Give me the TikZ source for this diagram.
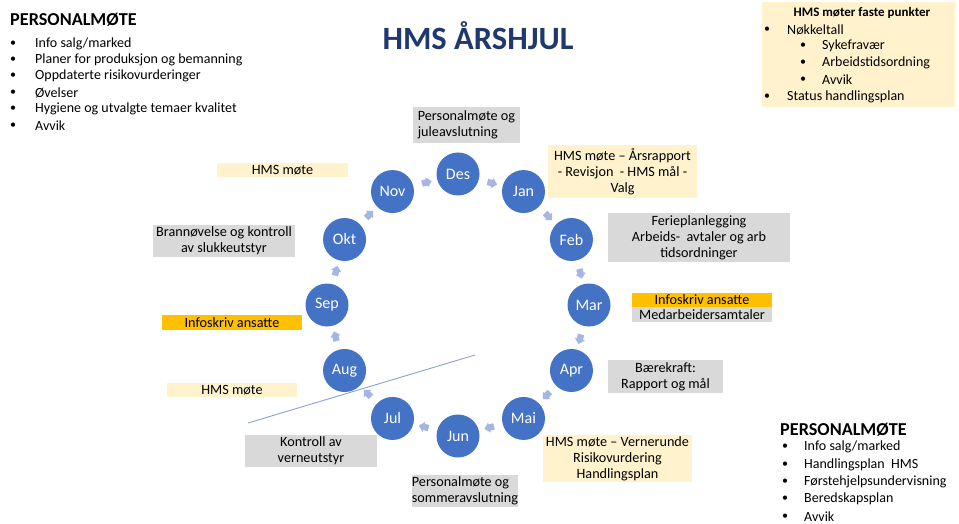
\documentclass[tikz,border=0pt]{standalone}
\usepackage{fontspec}
\setmainfont{Carlito}
\usetikzlibrary{shapes.arrows,calc}
\definecolor{circ}{RGB}{68,114,196}
\definecolor{arr}{RGB}{165,182,224}
\definecolor{cream}{RGB}{255,242,204}
\definecolor{grayb}{RGB}{217,217,217}
\definecolor{orangeb}{RGB}{255,192,0}
\definecolor{titleblue}{RGB}{31,56,110}
\definecolor{divline}{RGB}{140,160,210}
\begin{document}
\begin{tikzpicture}[x=1pt,y=-1pt,
  month/.style={circle,fill=circ,text=white,minimum size=43pt,inner sep=0pt,font=\fontsize{16}{16}\selectfont},
  flow/.style={single arrow,fill=arr,minimum height=10pt,minimum width=10pt,single arrow head extend=2pt,inner sep=3pt,sloped,allow upside down,anchor=center},
  lbl/.style={inner sep=0pt,font=\fontsize{14.2}{16}\selectfont,align=center},
  graylbl/.style={lbl,fill=grayb},
  creamlbl/.style={lbl,fill=cream},
  orangelbl/.style={lbl,fill=orangeb},
  listtxt/.style={anchor=west,inner sep=0pt,font=\fontsize{14}{16}\selectfont},
  bul/.style={anchor=center,inner sep=0pt,font=\fontsize{12}{14}\selectfont},
  heading/.style={anchor=west,inner sep=0pt,font=\fontsize{18.2}{20}\selectfont\bfseries}
]
\useasboundingbox (0,0) rectangle (959,524);
\fill[white] (0,0) rectangle (959,524);

% title
\node[inner sep=0pt,font=\fontsize{32.5}{34}\selectfont\bfseries,text=titleblue] (title) at (478,36) {HMS ÅRSHJUL};

% ring of months
\coordinate (c) at (458,305);
\foreach \n/\t/\a in {des/Des/270,jan/Jan/300,feb/Feb/330,mar/Mar/0,apr/Apr/30,mai/Mai/60,jun/Jun/90,jul/Jul/120,aug/Aug/150,sep/Sep/180,okt/Okt/210,nov/Nov/240}
  \node[month] (\n) at ($(c)+(\a:131)$) {\t};

\foreach \p/\q in {des/jan,jan/feb,feb/mar,mar/apr,apr/mai,mai/jun,jun/jul,jul/aug,aug/sep,sep/okt,okt/nov,nov/des}
  \path (\p) -- (\q) node[flow,midway] (a-\p) {};

% divider line
\coordinate (l1) at (248,423);
\coordinate (l2) at (475,355);
\draw[divline,line width=0.9pt] (l1) -- (l2);

% labels
\node[graylbl,minimum width=107pt,minimum height=36pt,align=left] (ldes) at (466.5,125) {Personalmøte og\\juleavslutning};
\node[creamlbl,minimum width=149pt,minimum height=53pt] (ljan) at (622.5,171.5) {HMS møte – Årsrapport\\- Revisjon\ \ - HMS mål -\\Valg};
\node[graylbl,minimum width=182pt,minimum height=49pt] (lfeb) at (699,237.5) {Ferieplanlegging\\Arbeids-\ \ avtaler og arb\\tidsordninger};
\node[orangelbl,minimum width=140pt,minimum height=14pt] (lmar1) at (702,300) {Infoskriv ansatte};
\node[graylbl,minimum width=140pt,minimum height=15pt] (lmar2) at (702,314.5) {Medarbeidersamtaler};
\node[graylbl,minimum width=115pt,minimum height=33pt] (lapr) at (665.5,376.5) {Bærekraft:\\Rapport og mål};
\node[creamlbl,minimum width=149pt,minimum height=47pt] (lmai) at (617.5,458.5) {HMS møte – Vernerunde\\Risikovurdering\\Handlingsplan};
\node[graylbl,minimum width=104pt,minimum height=32pt,align=left] (ljun) at (465,491) {Personalmøte og\\sommeravslutning};
\node[graylbl,minimum width=132pt,minimum height=32pt] (ljul) at (311,451) {Kontroll av\\verneutstyr};
\node[creamlbl,minimum width=130pt,minimum height=14pt] (laug) at (232,390) {HMS møte};
\node[orangelbl,minimum width=140pt,minimum height=15pt] (lsep) at (232,322.5) {Infoskriv ansatte};
\node[graylbl,minimum width=142pt,minimum height=32pt] (lokt) at (224,241) {Brannøvelse og kontroll\\av slukkeutstyr};
\node[creamlbl,minimum width=131pt,minimum height=14pt] (lnov) at (282.5,170) {HMS møte};

% top-left list
\node[heading] (h1) at (10,20) {PERSONALMØTE};
\foreach \y/\t [count=\i] in {44/Info salg\slash marked,60/Planer for produksjon og bemanning,76/Oppdaterte risikovurderinger,93/Øvelser,109/Hygiene og utvalgte temaer kvalitet,126/Avvik}{
  \node[bul] (tlb\i) at (13,\y) {•};
  \node[listtxt] (tlt\i) at (35,\y) {\t};
}

% top-right box
\node[fill=cream,minimum width=193pt,minimum height=105pt,inner sep=0pt] (hmsbox) at (858.5,54.5) {};
\node[inner sep=0pt,font=\fontsize{13}{14}\selectfont\bfseries] (hmst) at (862,13) {HMS møter faste punkter};
\node[bul] (trb1) at (767,30) {•};
\node[listtxt] (trt1) at (787,30) {Nøkkeltall};
\node[bul] (trb2) at (803,46) {•};
\node[listtxt] (trt2) at (822,46) {Sykefravær};
\node[bul] (trb3) at (803,63) {•};
\node[listtxt] (trt3) at (822,63) {Arbeidstidsordning};
\node[bul] (trb4) at (803,80) {•};
\node[listtxt] (trt4) at (822,80) {Avvik};
\node[bul] (trb5) at (767,97) {•};
\node[listtxt] (trt5) at (787,97) {Status handlingsplan};

% bottom-right list
\node[heading] (h2) at (780,430) {PERSONALMØTE};
\foreach \y/\t [count=\i] in {447/Info salg\slash marked,465/Handlingsplan\ \ HMS,482/Førstehjelpsundervisning,499/Beredskapsplan,517/Avvik}{
  \node[bul] (brb\i) at (785,\y) {•};
  \node[listtxt] (brt\i) at (804,\y) {\t};
}
\end{tikzpicture}
\end{document}
